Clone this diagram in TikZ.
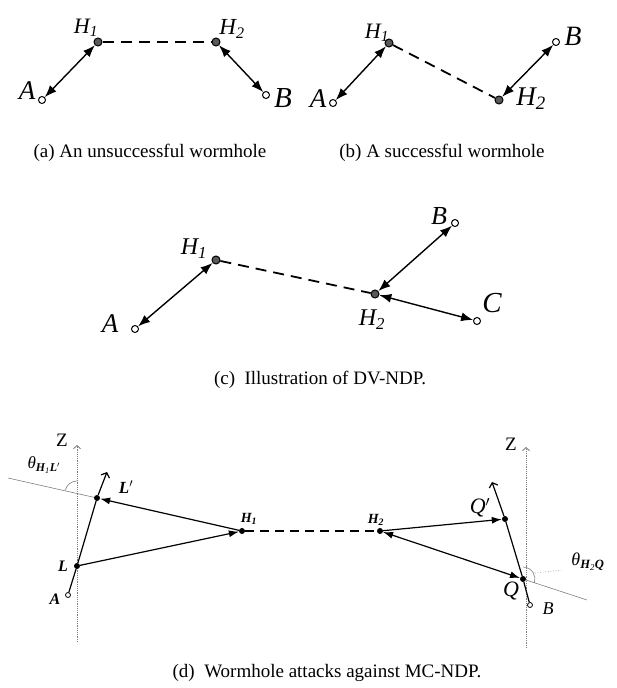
\documentclass[tikz,border=0pt]{standalone}
\usepackage{fontspec}
\setmainfont{Liberation Serif}
\usetikzlibrary{arrows.meta}
\begin{document}
\begin{tikzpicture}[x=1pt,y=-1pt,
  opennode/.style={circle,draw,fill=white,inner sep=0pt,minimum size=7pt,line width=1pt},
  holenode/.style={circle,draw,fill=black!65,inner sep=0pt,minimum size=8pt,line width=1pt},
  dotnode/.style={circle,fill=black,inner sep=0pt,minimum size=6pt},
  sopennode/.style={circle,draw,fill=white,inner sep=0pt,minimum size=5pt,line width=0.8pt},
  biarrow/.style={{Latex[length=12pt,width=9pt]}-{Latex[length=12pt,width=9pt]},line width=1.4pt},
  sarrow/.style={-{Latex[length=10pt,width=7pt]},line width=1.2pt},
  dbarrow/.style={{Latex[length=10pt,width=7pt]}-{Latex[length=10pt,width=7pt]},line width=1.2pt},
  tunnel/.style={dash pattern=on 11pt off 7pt,line width=1.8pt},
  dtunnel/.style={dash pattern=on 9pt off 6pt,line width=1.5pt},
  zaxis/.style={gray,dash pattern=on 1.2pt off 1pt,line width=0.9pt,-{Straight Barb[length=3pt,width=7pt]}},
  thinl/.style={gray,line width=0.6pt},
  lab/.style={font=\fontsize{#1}{#1}\selectfont\itshape,inner sep=0pt},
  blab/.style={font=\fontsize{#1}{#1}\selectfont\bfseries\itshape,inner sep=0pt},
  ulab/.style={font=\fontsize{#1}{#1}\selectfont,inner sep=0pt},
  captext/.style={font=\fontsize{19}{19}\selectfont,inner sep=0pt},
]
\useasboundingbox (0,0) rectangle (616,688);

% ---------- (a) ----------
\node[opennode] (aA) at (42,100) {};
\node[holenode] (aH1) at (98,42) {};
\node[holenode] (aH2) at (216,42) {};
\node[opennode] (aB) at (266,95) {};
\draw[tunnel] (aH1) -- (aH2);
\draw[biarrow] (aA) -- (aH1);
\draw[biarrow] (aH2) -- (aB);
\node[lab=27] (aAl) at (27,91) {A};
\node[lab=29] (aBl) at (283,98) {B};
\node[lab=22] (aH1l) at (86,28) {H\textsubscript{1}};
\node[lab=23] (aH2l) at (232,29) {H\textsubscript{2}};
\node[captext] (capa) at (150,153) {(a) An unsuccessful wormhole};

% ---------- (b) ----------
\node[opennode] (bA) at (333,103) {};
\node[holenode] (bH1) at (389,43) {};
\node[holenode] (bH2) at (499,100) {};
\node[opennode] (bB) at (556,42) {};
\draw[tunnel] (bH1) -- (bH2);
\draw[biarrow] (bA) -- (bH1);
\draw[biarrow] (bH2) -- (bB);
\node[lab=27] (bAl) at (318,99) {A};
\node[lab=22] (bH1l) at (377,33) {H\textsubscript{1}};
\node[lab=27] (bH2l) at (531,99) {H\textsubscript{2}};
\node[lab=28] (bBl) at (573,36) {B};
\node[captext] (capb) at (442,153) {(b) A successful wormhole};

% ---------- (c) ----------
\node[opennode] (cA) at (135,329) {};
\node[holenode] (cH1) at (216,260) {};
\node[holenode] (cH2) at (375,294) {};
\node[opennode] (cB) at (455,223) {};
\node[opennode] (cC) at (477,321) {};
\draw[tunnel] (cH1) -- (cH2);
\draw[biarrow] (cA) -- (cH1);
\draw[biarrow] (cH2) -- (cB);
\draw[biarrow] (cH2) -- (cC);
\node[lab=27] (cAl) at (110,324) {A};
\node[lab=24] (cH1l) at (194,249) {H\textsubscript{1}};
\node[lab=24] (cH2l) at (372,320) {H\textsubscript{2}};
\node[lab=26] (cBl) at (439,216) {B};
\node[lab=29] (cCl) at (492,303) {C};
\node[captext] (capc) at (320,380) {(c)\ \ Illustration of DV-NDP.};

% ---------- (d) ----------
\coordinate (zl0) at (77,642);
\coordinate (zl1) at (77,445);
\coordinate (zr0) at (526,648);
\coordinate (zr1) at (526,447);
\draw[zaxis] (zl0) -- (zl1);
\draw[zaxis] (zr0) -- (zr1);
\node[ulab=19] (zlL) at (62,440) {Z};
\node[ulab=19] (zrL) at (511,444) {Z};

\node[sopennode] (dA) at (68,595) {};
\node[dotnode] (dL) at (77,566) {};
\node[dotnode] (dLp) at (97,498) {};
\coordinate (dLt) at (107,472);
\node[dotnode] (dH1) at (242,531) {};
\node[dotnode] (dH2) at (380,531) {};
\node[dotnode] (dQp) at (505,519) {};
\node[dotnode] (dQ) at (523,579) {};
\node[sopennode] (dB) at (530,605) {};
\coordinate (dQt) at (492,482);

\coordinate (tl) at (8,478);
\coordinate (tr) at (587,600);
\draw[thinl] (tl) -- (dLp);
\draw[thinl] (dQ) -- (tr);
\coordinate (cl) at (77,493);
\draw[thinl] (cl) ++(193:12) arc[start angle=193,end angle=270,radius=12];
\draw[thinl] (dQ) ++(270:12) arc[start angle=270,end angle=379,radius=12];
\coordinate (ld0) at (535,573);
\coordinate (ld1) at (562,570);
\draw[gray,dotted,line width=0.6pt] (ld0) -- (ld1);

\draw[line width=1.2pt] (dA) -- (dL) -- (dLp);
\draw[line width=1.2pt,-{Straight Barb[length=4pt,width=9pt]}] (dLp) -- (dLt);
\draw[line width=1.2pt] (dB) -- (dQ) -- (dQp);
\draw[line width=1.2pt,-{Straight Barb[length=4pt,width=9pt]}] (dQp) -- (dQt);

\draw[dtunnel] (dH1) -- (dH2);
\draw[sarrow] (dL) -- (dH1);
\draw[sarrow] (dH1) -- (dLp);
\draw[sarrow] (dH2) -- (dQp);
\draw[dbarrow] (dQ) -- (dH2);

\node[lab=17] (thl) at (44,465) {θ\textsubscript{\textbf{H}\textsubscript{1}\textbf{L}$'$}};
\node[lab=18] (thr) at (588,562) {θ\textsubscript{\textbf{H}\textsubscript{2}\textbf{Q}}};
\node[blab=17] (dLpl) at (126,487) {L$'$};
\node[blab=16] (dLl) at (63,566) {L};
\node[blab=16] (dAl) at (55,599) {A};
\node[blab=14] (dH1l) at (249,519) {H\textsubscript{1}};
\node[blab=14] (dH2l) at (376,520) {H\textsubscript{2}};
\node[lab=22] (dQpl) at (480,508) {Q$'$};
\node[lab=22] (dQl) at (511,591) {Q};
\node[lab=18] (dBl) at (548,609) {B};
\node[captext] (capd) at (327,673) {(d)\ \ Wormhole attacks against MC-NDP.};
\end{tikzpicture}
\end{document}
